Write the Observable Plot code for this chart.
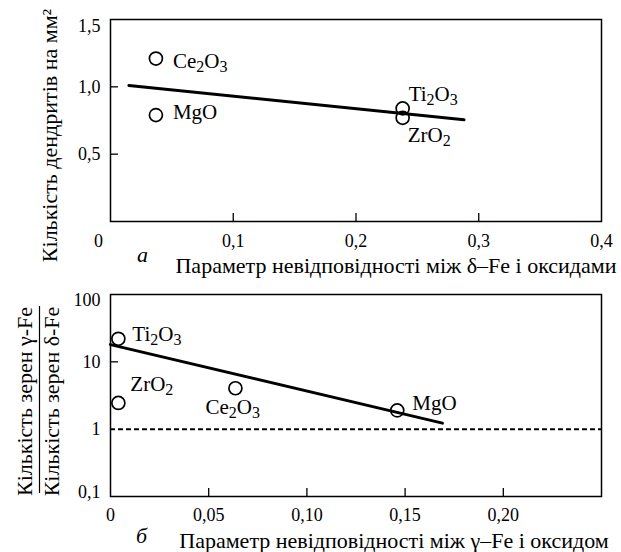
<!DOCTYPE html>
<html><head><meta charset="utf-8">
<script src="https://cdn.jsdelivr.net/npm/d3@7"></script>
<script src="https://cdn.jsdelivr.net/npm/@observablehq/plot@0.6"></script>
<style>
body{margin:0;background:#fff;}
#chart svg{display:block;overflow:visible;}
#chart svg text{font-family:"Liberation Serif","Times New Roman",serif !important;}
</style></head><body><div id="chart"></div>
<script>
// ---- Panel а: dendrites vs mismatch between δ-Fe and oxides
const oxidesA = ["Ce₂O₃", "MgO", "Ti₂O₃", "ZrO₂"];
const mismatchA = [0.037, 0.037, 0.238, 0.238];
const dendrites = [1.21, 0.79, 0.84, 0.77];
const fitAx = [0.015, 0.288];
const fitAy = [1.01, 0.755];
const xTicksA = [0, 0.1, 0.2, 0.3, 0.4];
const yTicksA = [0.5, 1.0, 1.5];
const yTitleA = "Кількість дендритів на мм²";
const xTitleA = "Параметр невідповідності між δ–Fe і оксидами";
const letterA = "а";

// ---- Panel б: grain ratio vs mismatch between γ-Fe and oxide
const oxidesB = ["Ti₂O₃", "ZrO₂", "Ce₂O₃", "MgO"];
const mismatchB = [0.004, 0.004, 0.0636, 0.146];
const grainRatio = [22, 2.45, 4.05, 1.9];
const fitBx = [0.0, 0.169];
const fitBy = [18, 1.23];
const refLine = [1];
const xTicksB = [0, 0.05, 0.10, 0.15, 0.20];
const yTicksB = [0.1, 1, 10, 100];
const yTitleBnum = "Кількість зерен γ-Fe";
const yTitleBden = "Кількість зерен δ-Fe";
const xTitleB = "Параметр невідповідності між γ–Fe і оксидом";
const letterB = "б";

const FONT = "'Liberation Serif', 'Times New Roman', serif";
const fmt = (digits) => (d) => d === 0 ? "0" : d3.format(`.${digits}f`)(d).replace(".", ",");
const fmtLog = (d) => String(d).replace(".", ",");

function subscriptify(svg) {
  const ns = "http://www.w3.org/2000/svg";
  const subs = "₀₁₂₃₄₅₆₇₈₉";
  svg.querySelectorAll("text").forEach(t => {
    if (t.children.length) return;
    const s = t.textContent;
    if (![...s].some(c => subs.includes(c))) return;
    t.textContent = "";
    let segs = [];
    for (const ch of s) {
      const k = subs.indexOf(ch);
      const isSub = k >= 0;
      const c = isSub ? String(k) : ch;
      if (segs.length && segs[segs.length - 1].sub === isSub) segs[segs.length - 1].txt += c;
      else segs.push({sub: isSub, txt: c});
    }
    let shifted = false;
    for (const sg of segs) {
      const ts = document.createElementNS(ns, "tspan");
      ts.textContent = sg.txt;
      if (sg.sub) {
        ts.setAttribute("font-size", "16px");
        ts.setAttribute("dy", "4");
        shifted = true;
      } else if (shifted) {
        ts.setAttribute("dy", "-4");
        shifted = false;
      }
      t.appendChild(ts);
    }
  });
}

const centered = {textAnchor: "middle", lineAnchor: "middle", fill: "black"};
const TITLE = 22, LABEL = 21;

const idxA = d3.range(oxidesA.length);
const offA = [[17, 3], [17, -3], [6, -14], [5, 17]];
const labelsA = idxA.map(i => Plot.text([i], {
  x: j => mismatchA[j], y: j => dendrites[j], text: j => oxidesA[j],
  textAnchor: "start", lineAnchor: "middle", dx: offA[i][0], dy: offA[i][1], fontSize: LABEL, fill: "black"
}));

const plotA = Plot.plot({
  width: 621, height: 280,
  marginLeft: 110, marginRight: 20, marginTop: 19, marginBottom: 59,
  style: {fontFamily: FONT, fontSize: "18px", color: "black", background: "white"},
  x: {domain: [0, 0.4]},
  y: {domain: [0, 1.5]},
  marks: [
    Plot.frame({stroke: "black", strokeWidth: 1.5}),
    Plot.axisY([0.5, 1.0], {tickSize: -8, fill: "none", stroke: "black", strokeWidth: 1.3, label: null}),
    Plot.axisY([0.5, 1.0], {tickSize: 0, tickPadding: 10, tickFormat: fmt(1), label: null}),
    Plot.axisY([1.5], {tickSize: 0, tickPadding: 10, dy: 7, tickFormat: fmt(1), label: null}),
    Plot.axisX([0.1, 0.2, 0.3], {tickSize: -8, fill: "none", stroke: "black", strokeWidth: 1.3, label: null}),
    Plot.axisX(xTicksA.slice(1), {tickSize: 0, tickPadding: 13, tickFormat: fmt(1), label: null}),
    Plot.axisX([xTicksA[0]], {tickSize: 0, tickPadding: 13, dx: -12, tickFormat: fmt(1), label: null}),
    Plot.line(d3.range(fitAx.length), {x: i => fitAx[i], y: i => fitAy[i], stroke: "black", strokeWidth: 3}),
    Plot.dot(idxA, {x: i => mismatchA[i], y: i => dendrites[i], r: 6.5, stroke: "black", strokeWidth: 1.7, fill: "none"}),
    ...labelsA,
    Plot.text([yTitleA], {...centered, text: d => d, frameAnchor: "left", rotate: -90, dx: -61, dy: 15, fontSize: TITLE}),
    Plot.text([xTitleA], {...centered, text: d => d, frameAnchor: "bottom", dx: 40, dy: 44, fontSize: TITLE}),
    Plot.text([letterA], {...centered, text: d => d, frameAnchor: "bottom-left", dx: 32, dy: 33, fontSize: TITLE, fontStyle: "italic"})
  ]
});

const idxB = d3.range(oxidesB.length);
const offB = [[14, -5], [12, -19], [-30, 19], [15, -7]];
const labelsB = idxB.map(i => Plot.text([i], {
  x: j => mismatchB[j], y: j => grainRatio[j], text: j => oxidesB[j],
  textAnchor: "start", lineAnchor: "middle", dx: offB[i][0], dy: offB[i][1], fontSize: LABEL, fill: "black"
}));

const plotB = Plot.plot({
  width: 621, height: 272,
  marginLeft: 110, marginRight: 20, marginTop: 14, marginBottom: 56,
  style: {fontFamily: FONT, fontSize: "18px", color: "black", background: "white"},
  x: {domain: [0, 0.25]},
  y: {type: "log", domain: [0.1, 100]},
  marks: [
    Plot.frame({stroke: "black", strokeWidth: 1.5}),
    Plot.axisY([10], {tickSize: -8, fill: "none", stroke: "black", strokeWidth: 1.3, label: null}),
    Plot.axisY([1, 10], {tickSize: 0, tickPadding: 10, tickFormat: fmtLog, label: null}),
    Plot.axisY([100], {tickSize: 0, tickPadding: 10, dy: 6, tickFormat: fmtLog, label: null}),
    Plot.axisY([0.1], {tickSize: 0, tickPadding: 10, dy: -4, tickFormat: fmtLog, label: null}),
    Plot.axisX([0.05, 0.10, 0.15, 0.20], {tickSize: -8, fill: "none", stroke: "black", strokeWidth: 1.3, label: null}),
    Plot.axisX(xTicksB, {tickSize: 0, tickPadding: 12, tickFormat: fmt(2), label: null}),
    Plot.ruleY(refLine, {stroke: "black", strokeWidth: 2, strokeDasharray: "5,3"}),
    Plot.line(d3.range(fitBx.length), {x: i => fitBx[i], y: i => fitBy[i], stroke: "black", strokeWidth: 3}),
    Plot.dot(idxB, {x: i => mismatchB[i], y: i => grainRatio[i], r: 6.5, stroke: "black", strokeWidth: 1.7, fill: "none"}),
    ...labelsB,
    Plot.text([yTitleBnum], {...centered, text: d => d, frameAnchor: "left", rotate: -90, dx: -86, dy: 6, fontSize: TITLE}),
    Plot.ruleX([0], {dx: -71, insetTop: 12, insetBottom: 3, stroke: "black", strokeWidth: 1.2}),
    Plot.text([yTitleBden], {...centered, text: d => d, frameAnchor: "left", rotate: -90, dx: -59, dy: 6, fontSize: TITLE}),
    Plot.text([xTitleB], {...centered, text: d => d, frameAnchor: "bottom", dx: 38, dy: 44, fontSize: TITLE}),
    Plot.text([letterB], {...centered, text: d => d, frameAnchor: "bottom-left", dx: 31, dy: 39, fontSize: TITLE, fontStyle: "italic"})
  ]
});

subscriptify(plotA);
subscriptify(plotB);
document.getElementById("chart").append(plotA, plotB);
</script></body></html>
